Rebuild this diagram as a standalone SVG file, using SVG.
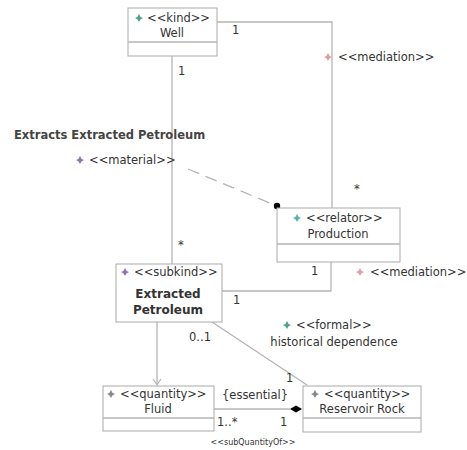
<svg xmlns="http://www.w3.org/2000/svg" width="467" height="450" viewBox="0 0 467 450">
<defs>
<style>
text{font-family:"DejaVu Sans","Liberation Sans",sans-serif;font-size:11.5px;fill:#333}
.box{fill:#fff;stroke:#aaa;stroke-width:1}
.ln{fill:none;stroke:#b4b4b4;stroke-width:1.3}
.c{text-anchor:middle}
.b{font-weight:bold;font-size:12px}
.sm{font-size:8px}
.t{font-weight:bold;fill:#444}
</style>
<path id="st" d="M0,-4 Q0.8,-0.8 4,0 Q0.8,0.8 0,4 Q-0.8,0.8 -4,0 Q-0.8,-0.8 0,-4Z"/>
</defs>
<rect width="467" height="450" fill="#fff"/>
<g id="connectors">
<polyline class="ln" points="217,22 332,22 332,208"/>
<line class="ln" x1="172" y1="56" x2="172" y2="264"/>
<polyline class="ln" points="331,262 331,291 222,291"/>
<line class="ln" x1="188" y1="169" x2="277" y2="206" stroke-dasharray="12,7"/>
<circle cx="277" cy="206" r="3.2" fill="#000"/>
<line class="ln" x1="157" y1="322" x2="157" y2="384"/>
<path d="M153,379 L157,385 L161,379" fill="none" stroke="#b4b4b4" stroke-width="1.2"/>
<line class="ln" x1="212" y1="322" x2="307" y2="385"/>
<line class="ln" x1="214" y1="409" x2="290" y2="409"/>
<path d="M290,409 L296,405.5 L302,409 L296,412.5Z" fill="#000"/>
</g>
<g id="well">
<rect class="box" x="128" y="8" width="89" height="48"/>
<line class="ln" x1="128" y1="42" x2="217" y2="42"/>
<use href="#st" x="139" y="18" fill="#4aa58a"/>
<text x="147" y="22">&lt;&lt;kind&gt;&gt;</text>
<text class="c" x="172" y="37">Well</text>
</g>
<g id="production">
<rect class="box" x="277" y="208" width="123" height="54"/>
<line class="ln" x1="277" y1="244" x2="400" y2="244"/>
<use href="#st" x="297" y="218" fill="#5ab0b0"/>
<text x="306" y="222">&lt;&lt;relator&gt;&gt;</text>
<text class="c" x="338" y="238">Production</text>
</g>
<g id="extracted-petroleum">
<rect class="box" x="116" y="264" width="106" height="58"/>
<use href="#st" x="125" y="272" fill="#9070b0"/>
<text x="134" y="276">&lt;&lt;subkind&gt;&gt;</text>
<text class="c b" x="168" y="298">Extracted</text>
<text class="c b" x="168" y="314">Petroleum</text>
</g>
<g id="fluid">
<rect class="box" x="103" y="386" width="111" height="45"/>
<line class="ln" x1="103" y1="418" x2="214" y2="418"/>
<use href="#st" x="111" y="394" fill="#888"/>
<text x="120" y="398">&lt;&lt;quantity&gt;&gt;</text>
<text class="c" x="158" y="413">Fluid</text>
</g>
<g id="reservoir-rock">
<rect class="box" x="303" y="386" width="118" height="46"/>
<line class="ln" x1="303" y1="418" x2="421" y2="418"/>
<use href="#st" x="315" y="394" fill="#888"/>
<text x="324" y="398">&lt;&lt;quantity&gt;&gt;</text>
<text class="c" x="362" y="413">Reservoir Rock</text>
</g>
<g id="labels">
<text x="232" y="34">1</text>
<text x="178" y="75">1</text>
<use href="#st" x="328" y="57" fill="#d9a0a8"/>
<text x="338" y="61">&lt;&lt;mediation&gt;&gt;</text>
<text class="t" x="14" y="139">Extracts Extracted Petroleum</text>
<use href="#st" x="80" y="160" fill="#9070b0"/>
<text x="89" y="164">&lt;&lt;material&gt;&gt;</text>
<text x="354" y="193">*</text>
<text x="178" y="249">*</text>
<text x="311" y="275">1</text>
<use href="#st" x="360" y="272" fill="#d9a0a8"/>
<text x="370" y="276">&lt;&lt;mediation&gt;&gt;</text>
<text x="233" y="304">1</text>
<text x="189" y="341">0..1</text>
<use href="#st" x="287" y="325" fill="#4aa58a"/>
<text x="296" y="329">&lt;&lt;formal&gt;&gt;</text>
<text class="c" x="334" y="346">historical dependence</text>
<text x="286" y="382">1</text>
<text x="222" y="399">{essential}</text>
<text x="217" y="426">1..*</text>
<text x="280" y="426">1</text>
<text class="c sm" x="253" y="445">&lt;&lt;subQuantityOf&gt;&gt;</text>
</g>
</svg>
